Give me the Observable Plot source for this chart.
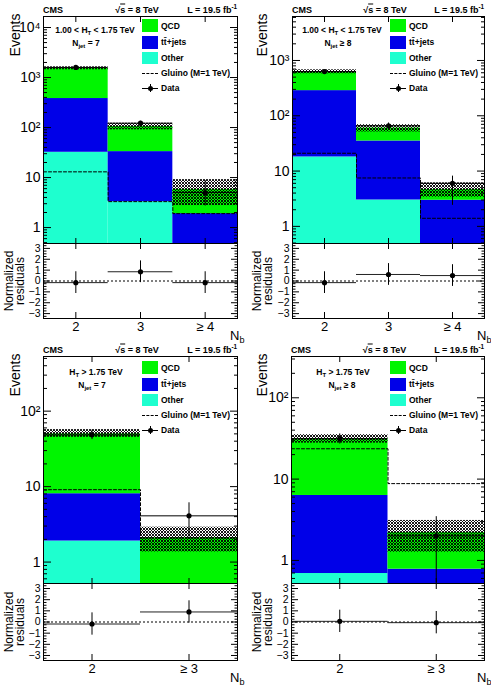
<!DOCTYPE html>
<html><head><meta charset="utf-8">
<script src="https://cdn.jsdelivr.net/npm/d3@7"></script>
<script src="https://cdn.jsdelivr.net/npm/@observablehq/plot@0.6"></script>
<style>
body{margin:0;background:#fff;}
#c{position:relative;width:491px;height:687px;overflow:hidden;font-family:"Liberation Sans",Arial,Helvetica,sans-serif;background:#fff;}
#c svg{position:absolute;}
.t{position:absolute;white-space:nowrap;line-height:1;}
.b{font-weight:bold;}
sub,sup{font-size:70%;line-height:0;}
</style>
</head><body>
<svg width="0" height="0" style="position:absolute"><defs>
<pattern id="hatch" patternUnits="userSpaceOnUse" width="3" height="3">
<path d="M0,0 L3,3 M3,0 L0,3" stroke="#000" stroke-width="0.9"/>
</pattern></defs></svg>
<div id="c"></div>
<script>
// ---------- data ----------
const binsA = ["2", "3", "≥ 4"];
const binsB = ["2", "≥ 3"];

// Panel 1: 1.00 < HT < 1.75 TeV, Njet = 7
const p1Other = [32, 3.3, 0.3];
const p1TT = [348, 29.7, 1.6];
const p1QCD = [1150, 72, 3.9];
const p1BandLo = [1430, 90, 2.75];
const p1BandHi = [1640, 122, 9.1];
const p1Gluino = [13, 3.3, 1.9];
const p1Data = [1590, 122, 5.0];
const p1DataLo = [1550, 111, 2.7];
const p1DataHi = [1630, 133, 8.7];
const p1Resid = [-0.15, 0.85, -0.15];
const p1ResidErr = [1, 1, 1];

// Panel 2: 1.00 < HT < 1.75 TeV, Njet >= 8
const p2Other = [18, 3, 0.3];
const p2TT = [267, 32, 2.67];
const p2QCD = [335, 25, 1.68];
const p2BandLo = [573, 51, 3.37];
const p2BandHi = [678, 69, 6.13];
const p2Gluino = [21, 7.5, 1.4];
const p2Data = [630, 66, 6.0];
const p2DataLo = [605, 58, 2.4];
const p2DataHi = [655, 74, 8.1];
const p2Resid = [-0.15, 0.6, 0.5];
const p2ResidErr = [1, 1, 1];

// Panel 3: HT > 1.75 TeV, Njet = 7
const p3Other = [1.9, 0.1];
const p3TT = [6.15, 0.2];
const p3QCD = [42, 1.8];
const p3BandLo = [45, 1.36];
const p3BandHi = [57, 2.9];
const p3Gluino = [9.1, 2.1];
const p3Data = [48.5, 4.1];
const p3DataLo = [42, 2.15];
const p3DataHi = [56, 6.1];
const p3Resid = [-0.18, 0.9];
const p3ResidErr = [1, 1];

// Panel 4: HT > 1.75 TeV, Njet >= 8
const p4Other = [0.69, 0.2];
const p4TT = [5.6, 0.58];
const p4QCD = [25.2, 1.42];
const p4BandLo = [27.7, 1.26];
const p4BandHi = [35.2, 3.1];
const p4Gluino = [23.6, 8.8];
const p4Data = [31.4, 2.0];
const p4DataLo = [27, 0.53];
const p4DataHi = [36, 3.45];
const p4Resid = [0.06, -0.06];
const p4ResidErr = [1, 1];

const colQCD = "#00f500";
const colTT = "#0000e8";
const colOther = "#1effcf";
const FONT = "Liberation Sans, Arial, Helvetica, sans-serif";

// ---------- helpers ----------
const supMap = {"0":"⁰","1":"¹","2":"²","3":"³","4":"⁴","5":"⁵","6":"⁶"};
function logFmt(v) {
  const e = Math.round(Math.log10(v));
  if (e === 0) return "1";
  if (e === 1) return "10";
  return "10" + String(e).split("").map(c => supMap[c]).join("");
}
function majorLog(dom) { const o = []; for (let e = -1; e <= 5; e++) { const v = 10 ** e; if (v >= dom[0] && v <= dom[1]) o.push(v); } return o; }
function minorLog(dom) { const o = []; for (let e = -1; e <= 5; e++) for (let m = 2; m <= 9; m++) { const v = m * 10 ** e; if (v >= dom[0] && v <= dom[1]) o.push(v); } return o; }
const blank = () => "";
const intFmt = v => (v < 0 ? "−" + (-v) : String(v));

function mainPanel(p, box) {
  const n = p.bins.length;
  const floor = p.yDomain[0];
  const cl = v => Math.max(v, floor);
  const rows = p.bins.map((b, i) => {
    const o = p.other[i], t = o + p.tt[i], q = t + p.qcd[i];
    return {x1: i, x2: i + 1, xc: i + 0.5, o, t, q, lo: p.bandLo[i], hi: p.bandHi[i],
            d: p.data[i], dlo: p.dataLo[i], dhi: p.dataHi[i]};
  });
  const glu = p.gluino.map((g, i) => ({x: i, y: g})).concat([{x: n, y: p.gluino[n - 1]}]);
  const centers = rows.map(r => r.xc);
  const maj = majorLog(p.yDomain), mnr = minorLog(p.yDomain);
  const svg = Plot.plot({
    width: box.w, height: box.h,
    marginLeft: box.ml, marginRight: box.mr, marginTop: box.mt, marginBottom: 0,
    style: {fontFamily: FONT, background: "none", overflow: "visible"},
    x: {domain: [0, n], label: null},
    y: {type: "log", domain: p.yDomain, label: null},
    marks: [
      Plot.rect(rows, {x1: "x1", x2: "x2", y1: floor, y2: d => cl(d.o), fill: colOther}),
      Plot.rect(rows, {x1: "x1", x2: "x2", y1: d => cl(d.o), y2: d => cl(d.t), fill: colTT}),
      Plot.rect(rows, {x1: "x1", x2: "x2", y1: d => cl(d.t), y2: d => cl(d.q), fill: colQCD}),
      Plot.rect(rows, {x1: "x1", x2: "x2", y1: d => cl(d.lo), y2: "hi", fill: "url(#hatch)"}),
      Plot.line(glu, {x: "x", y: "y", curve: "step-after", stroke: "#000", strokeWidth: 1, strokeDasharray: "3,2"}),
      Plot.ruleY(rows, {x1: "x1", x2: "x2", y: "d", stroke: "#000", strokeWidth: 1}),
      Plot.ruleX(rows, {x: "xc", y1: "dlo", y2: "dhi", stroke: "#000", strokeWidth: 1}),
      Plot.dot(rows, {x: "xc", y: "d", r: 2.6, fill: "#000", stroke: "none"}),
      Plot.frame({stroke: "#000", strokeWidth: 1}),
      Plot.axisY({anchor: "left", ticks: maj, tickSize: 0, tickPadding: 3, tickFormat: logFmt, fontSize: 14, label: null}),
      Plot.axisY({anchor: "left", ticks: maj, tickSize: -8, tickFormat: blank, label: null}),
      Plot.axisY({anchor: "left", ticks: mnr, tickSize: -4, tickFormat: blank, label: null}),
      Plot.axisY({anchor: "right", ticks: maj, tickSize: -8, tickFormat: blank, label: null}),
      Plot.axisY({anchor: "right", ticks: mnr, tickSize: -4, tickFormat: blank, label: null}),
      Plot.axisX({anchor: "bottom", ticks: centers, tickSize: -5, tickFormat: blank, label: null}),
      Plot.axisX({anchor: "top", ticks: centers, tickSize: -5, tickFormat: blank, label: null})
    ]
  });
  svg.style.left = box.left + "px"; svg.style.top = box.top + "px";
  return svg;
}

function residPanel(p, box) {
  const n = p.bins.length;
  const rows = p.bins.map((b, i) => ({x1: i, x2: i + 1, xc: i + 0.5, r: p.resid[i], e: p.residErr[i]}));
  const centers = rows.map(r => r.xc);
  const maj = [-3, -2, -1, 0, 1, 2, 3];
  const mnr = [-3.25, -2.75, -2.5, -2.25, -1.75, -1.5, -1.25, -0.75, -0.5, -0.25, 0.25, 0.5, 0.75, 1.25, 1.5, 1.75, 2.25, 2.5, 2.75, 3.25];
  const svg = Plot.plot({
    width: box.w, height: box.h,
    marginLeft: box.ml, marginRight: box.mr, marginTop: 0, marginBottom: box.mb,
    style: {fontFamily: FONT, background: "none", overflow: "visible"},
    x: {domain: [0, n], label: null},
    y: {domain: [-3.45, 3.45], label: null},
    marks: [
      Plot.ruleY([0], {stroke: "#000", strokeWidth: 1, strokeDasharray: "2,2"}),
      Plot.ruleY(rows, {x1: "x1", x2: "x2", y: "r", stroke: "#222", strokeWidth: 1}),
      Plot.ruleX(rows, {x: "xc", y1: d => d.r - d.e, y2: d => d.r + d.e, stroke: "#000", strokeWidth: 1}),
      Plot.dot(rows, {x: "xc", y: "r", r: 2.6, fill: "#000", stroke: "none"}),
      Plot.frame({stroke: "#000", strokeWidth: 1}),
      Plot.axisY({anchor: "left", ticks: maj, tickSize: 0, tickPadding: 3, fontSize: 10.5, tickFormat: intFmt, label: null}),
      Plot.axisY({anchor: "left", ticks: maj, tickSize: -7, tickFormat: blank, label: null}),
      Plot.axisY({anchor: "left", ticks: mnr, tickSize: -3.5, tickFormat: blank, label: null}),
      Plot.axisY({anchor: "right", ticks: maj, tickSize: -7, tickFormat: blank, label: null}),
      Plot.axisY({anchor: "right", ticks: mnr, tickSize: -3.5, tickFormat: blank, label: null}),
      Plot.axisX({anchor: "bottom", ticks: centers, tickSize: 0, tickPadding: 3, fontSize: 13,
                  tickFormat: v => p.bins[Math.floor(v)], label: null}),
      Plot.axisX({anchor: "bottom", ticks: centers, tickSize: -6, tickFormat: blank, label: null}),
      Plot.axisX({anchor: "top", ticks: centers, tickSize: -5, tickFormat: blank, label: null})
    ]
  });
  svg.style.left = box.left + "px"; svg.style.top = box.top + "px";
  return svg;
}

const root = document.getElementById("c");
function txt(html, x, y, size, opts = {}) {
  const d = document.createElement("div");
  d.className = "t" + (opts.bold ? " b" : "");
  d.innerHTML = html;
  d.style.fontSize = size + "px";
  d.style.left = x + "px"; d.style.top = y + "px";
  const ax = opts.anchor === "end" ? "-100%" : opts.anchor === "start" ? "0" : "-50%";
  d.style.transform = `translate(${ax},-50%)` + (opts.rot ? " rotate(-90deg)" : "");
  root.appendChild(d);
  return d;
}
function box(x, y, w, h, style) {
  const d = document.createElement("div");
  d.style.position = "absolute";
  d.style.left = x + "px"; d.style.top = y + "px"; d.style.width = w + "px"; d.style.height = h + "px";
  Object.assign(d.style, style);
  root.appendChild(d);
}

const panels = [
  {bins: binsA, other: p1Other, tt: p1TT, qcd: p1QCD, bandLo: p1BandLo, bandHi: p1BandHi, gluino: p1Gluino,
   data: p1Data, dataLo: p1DataLo, dataHi: p1DataHi, resid: p1Resid, residErr: p1ResidErr, yDomain: [0.48, 16600],
   main: {left: 0, top: 0, w: 245, h: 243, ml: 43, mr: 8, mt: 16}, res: {left: 0, top: 243, w: 245, h: 97, ml: 43, mr: 8, mb: 22},
   ox: 0, oy: 0, fx: [43, 237], t1: "1.00 &lt; H<sub>T</sub> &lt; 1.75 TeV", t2: "N<sub>jet</sub> = 7", t1x: 95, t2x: 86},
  {bins: binsA, other: p2Other, tt: p2TT, qcd: p2QCD, bandLo: p2BandLo, bandHi: p2BandHi, gluino: p2Gluino,
   data: p2Data, dataLo: p2DataLo, dataHi: p2DataHi, resid: p2Resid, residErr: p2ResidErr, yDomain: [0.49, 6240],
   main: {left: 245, top: 0, w: 246, h: 243, ml: 47, mr: 7, mt: 16}, res: {left: 245, top: 243, w: 246, h: 97, ml: 47, mr: 7, mb: 22},
   ox: 245, oy: 0, fx: [292, 484], t1: "1.00 &lt; H<sub>T</sub> &lt; 1.75 TeV", t2: "N<sub>jet</sub> ≥ 8", t1x: 342, t2x: 338},
  {bins: binsB, other: p3Other, tt: p3TT, qcd: p3QCD, bandLo: p3BandLo, bandHi: p3BandHi, gluino: p3Gluino,
   data: p3Data, dataLo: p3DataLo, dataHi: p3DataHi, resid: p3Resid, residErr: p3ResidErr, yDomain: [0.52, 530],
   main: {left: 0, top: 340, w: 245, h: 243, ml: 43, mr: 8, mt: 16}, res: {left: 0, top: 583, w: 245, h: 104, ml: 43, mr: 8, mb: 27},
   ox: 0, oy: 342, fx: [43, 237], t1: "H<sub>T</sub> &gt; 1.75 TeV", t2: "N<sub>jet</sub> = 7", t1x: 96, t2x: 92},
  {bins: binsB, other: p4Other, tt: p4TT, qcd: p4QCD, bandLo: p4BandLo, bandHi: p4BandHi, gluino: p4Gluino,
   data: p4Data, dataLo: p4DataLo, dataHi: p4DataHi, resid: p4Resid, residErr: p4ResidErr, yDomain: [0.52, 322],
   main: {left: 245, top: 340, w: 246, h: 243, ml: 46, mr: 7, mt: 16}, res: {left: 245, top: 583, w: 246, h: 104, ml: 46, mr: 7, mb: 27},
   ox: 245, oy: 342, fx: [291, 484], t1: "H<sub>T</sub> &gt; 1.75 TeV", t2: "N<sub>jet</sub> ≥ 8", t1x: 343, t2x: 342}
];

for (const p of panels) {
  root.appendChild(mainPanel(p, p.main));
  root.appendChild(residPanel(p, p.res));
  const top = p.main.top;
  const [fl, fr] = p.fx;
  // header
  txt("CMS", fl, top + 10, 9, {bold: true, anchor: "start"});
  txt("√<span style='text-decoration:overline'>s</span> = 8 TeV", (fl + fr) / 2 - 3, top + 10, 9, {bold: true});
  txt("L = 19.5 fb<sup>-1</sup>", fr, top + 10, 9, {bold: true, anchor: "end"});
  // panel text
  txt(p.t1, p.t1x, p.oy + 30, 8.5, {bold: true});
  txt(p.t2, p.t2x, p.oy + 43, 8.5, {bold: true});
  // legend
  const bx = p.ox + 142 + (p.ox ? 3 : 0), tx = bx + 19;
  const ys = [25.5, 42, 57.5, 72.5, 88].map(v => v + p.oy);
  box(bx, ys[0] - 6.5, 16, 13, {background: colQCD});
  box(bx, ys[1] - 6.5, 16, 13, {background: colTT});
  box(bx, ys[2] - 6, 16, 12, {background: colOther});
  box(bx, ys[3], 16, 0, {borderTop: "1px dashed #000"});
  box(bx, ys[4], 16, 0, {borderTop: "1px solid #000"});
  box(bx + 8, ys[4] - 4, 0, 8, {borderLeft: "1px solid #000"});
  box(bx + 5.5, ys[4] - 2, 5, 5, {background: "#000", borderRadius: "50%"});
  txt("QCD", tx, ys[0], 8.5, {bold: true, anchor: "start"});
  txt("tt̄+jets", tx, ys[1], 8.5, {bold: true, anchor: "start"});
  txt("Other", tx, ys[2], 8.5, {bold: true, anchor: "start"});
  txt("Gluino (M=1 TeV)", tx, ys[3], 8.5, {bold: true, anchor: "start"});
  txt("Data", tx, ys[4], 8.5, {bold: true, anchor: "start"});
  // axis titles
  txt("Events", p.ox + 15 + (p.ox ? 2 : 0), top + 35, 14, {rot: true});
  const rc = (p.res.top + (p.res.h - p.res.mb) / 2);
  txt("Normalized", p.ox + 8.5 + (p.ox ? 3 : 0), rc, 12, {rot: true});
  txt("residuals", p.ox + 20 + (p.ox ? 3 : 0), rc, 12, {rot: true});
  txt("N<sub>b</sub>", fr - 7, p.res.top + p.res.h - p.res.mb + 17, 13, {anchor: "start"});
}
</script>
</body></html>
